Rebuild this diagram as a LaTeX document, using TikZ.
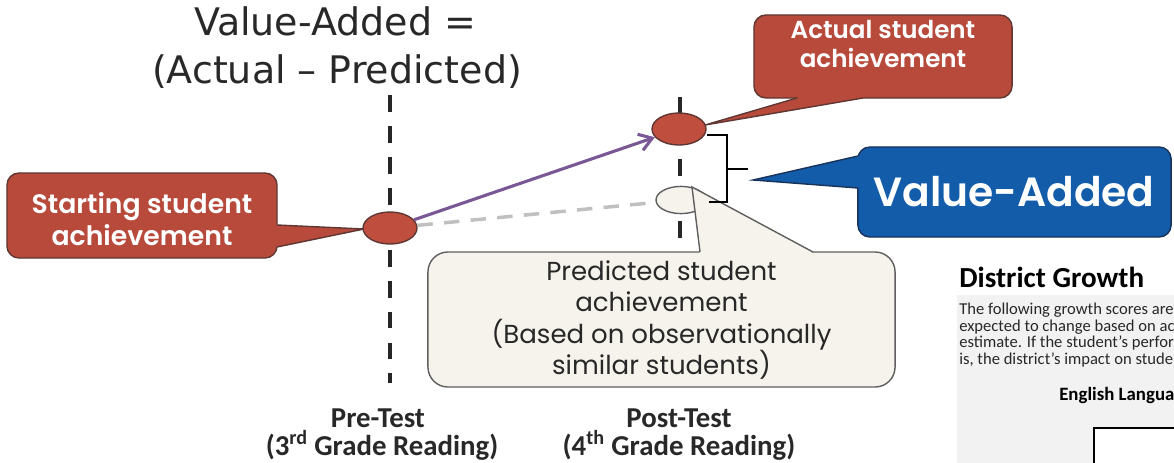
\documentclass[tikz,border=0pt]{standalone}
\usepackage{fontspec}
\usepackage{tikz}
\usetikzlibrary{shapes.geometric, arrows.meta, calc}

\newfontfamily\titlefont{DejaVu Sans}
\newfontfamily\calibfont{Carlito}
\newfontfamily\callfont{Poppins}
\IfFontExistsTF{Poppins SemiBold}{\newfontfamily\callboldfont{Poppins SemiBold}}{\newfontfamily\callboldfont{Poppins}}

\definecolor{callred}{RGB}{184,74,60}
\definecolor{callredline}{RGB}{95,55,50}
\definecolor{callblue}{RGB}{18,92,170}
\definecolor{callblueline}{RGB}{25,50,90}
\definecolor{cream}{RGB}{246,243,236}
\definecolor{creamline}{RGB}{95,95,95}
\definecolor{dotred}{RGB}{192,78,62}
\definecolor{growth}{RGB}{122,88,150}
\definecolor{predgray}{RGB}{192,192,192}
\definecolor{panelgray}{RGB}{242,242,242}
\definecolor{inkgray}{RGB}{40,40,40}

% pointer of a callout: fill colour, line colour, box node, base, tip, base
\newcommand{\calloutpointer}[6]{%
  \fill[#1] ($#4!3pt!(#3.center)$) -- #4 -- #5 -- #6 -- ($#6!3pt!(#3.center)$) -- cycle;
  \draw[#2, line width=1pt, line join=miter] #4 -- #5 -- #6;}

\begin{document}
\begin{tikzpicture}[x=0.025cm, y=-0.025cm,
      guide/.style={line width=3pt, black!85, dash pattern=on 12pt off 10pt},
      dot/.style={ellipse, draw=callredline, fill=dotred, line width=1pt,
      minimum width=1.35cm, minimum height=0.8cm, inner sep=0pt},
      dotpred/.style={dot, draw=creamline, fill=cream, minimum width=1.25cm,
      minimum height=0.68cm},
      calloutred/.style={rectangle, rounded corners=0.3cm, draw=callredline,
      fill=callred, line width=1pt, inner sep=0pt},
      calloutblue/.style={calloutred, draw=callblueline, fill=callblue},
      calloutcream/.style={calloutred, rounded corners=0.5cm, draw=creamline,
      fill=cream},
      calltext/.style={font=\callboldfont\fontsize{19}{22.8}\selectfont,
      text=white, align=center},
      growtharrow/.style={-{Straight Barb[length=9pt, width=12pt]}, growth,
      line width=2.2pt},
      predline/.style={predgray, line width=2.5pt, dash pattern=on 11pt off 8pt},
      bracketline/.style={line width=2pt, black},
      titletext/.style={font=\titlefont\fontsize{27}{30}\selectfont,
      text=inkgray, anchor=base},
      testlabel/.style={font=\calibfont\bfseries\fontsize{20.5}{22}\selectfont,
      text=inkgray, anchor=base} ]

    \useasboundingbox (0,0) rectangle (1174,462);
    \clip (0,0) rectangle (1174,462);

    % Test guides
    \draw[guide] (390,95) -- (390,383);
    \draw[guide] (680,97) -- (680,252);

    % Callouts
    \node[calloutred, minimum width=6.75cm, minimum height=2.125cm] (start) at
    (142,215.5) {};
    \calloutpointer{callred}{callredline}{start}{(277,225)}{(364,229)}{(277,247)}
    \node[calltext] (startlbl) at (142,219) {Starting student\\achievement};

    \node[calloutred, minimum width=6.45cm, minimum height=2.075cm] (actual) at
    (883,56.5) {};
    \calloutpointer{callred}{callredline}{actual}{(797,98)}{(705,125)}{(863,98)}
    \node[calltext, font=\callboldfont\fontsize{17.5}{20}\selectfont] (actuallbl)
    at (883,44) {Actual student\\achievement};

    \node[calloutblue, minimum width=7.83cm, minimum height=2.25cm] (va) at
    (1014.5,192) {};
    \calloutpointer{callblue}{callblueline}{va}{(858,156)}{(753,180)}{(858,188)}
    \node[calltext, font=\callboldfont\fontsize{29}{36}\selectfont] (valbl) at
    (1014,192) {Value-Added};

    % Achievement dots
    \node[dot] (startdot) at (390,228) {};
    \node[dot] (actualdot) at (679,129) {};
    \node[dotpred] (preddot) at (681,200) {};

    % Actual and predicted growth
    \draw[growtharrow] (startdot) -- (actualdot);
    \draw[predline, shorten >=6pt] (startdot) -- (preddot);

    % Predicted callout
    \node[calloutcream, minimum width=11.675cm, minimum height=3.375cm] (pred)
    at (661.5,319.5) {};
    \calloutpointer{cream}{creamline}{pred}{(700,252)}{(692,187)}{(813,252)}
    \node[calltext, font=\callfont\fontsize{18.5}{22.5}\selectfont, text=inkgray]
    (predlbl) at (661.5,320) {Predicted student\\achievement\\(Based on
    observationally\\similar students)};

    % Bracket
    \draw[bracketline] (707,135) -- (727,135) -- (727,202) -- (709,202);
    \draw[bracketline] (727,169) -- (748,169);

    % Titles
    \node[titletext] (title) at (335,35) {Value-Added =};
    \node[titletext] (titlesub) at (337,83) {(Actual – Predicted)};

    % Test labels
    \node[testlabel] (pre) at (378,427) {Pre-Test};
    \node[testlabel] (presub) at (382,455) {(3\textsuperscript{rd} Grade Reading)};
    \node[testlabel] (post) at (679,427) {Post-Test};
    \node[testlabel] (postsub) at (679,455) {(4\textsuperscript{th} Grade Reading)};

    % District growth panel
    \node[font=\calibfont\bfseries\fontsize{20.7}{24}\selectfont, text=black,
    anchor=base west, inner sep=0pt] (district) at (959,287) {District Growth};
    \fill[panelgray] (957,295) rectangle (1180,470);
    \node[font=\calibfont\fontsize{11.8}{11.7}\selectfont, text=inkgray, align=left,
    anchor=north west, inner sep=0pt] (growthtxt) at (959,303) {The following
    growth scores are\\expected to change based on ac\\estimate. If the
    student’s perfor\\is, the district’s impact on stude};
    \node[font=\calibfont\bfseries\fontsize{13.4}{16}\selectfont, text=black,
    anchor=base west, inner sep=0pt] (ela) at (1059,400) {English Langua};
    \draw[line width=1.5pt, fill=white] (1094,428) rectangle (1190,480);

\end{tikzpicture}
\end{document}
